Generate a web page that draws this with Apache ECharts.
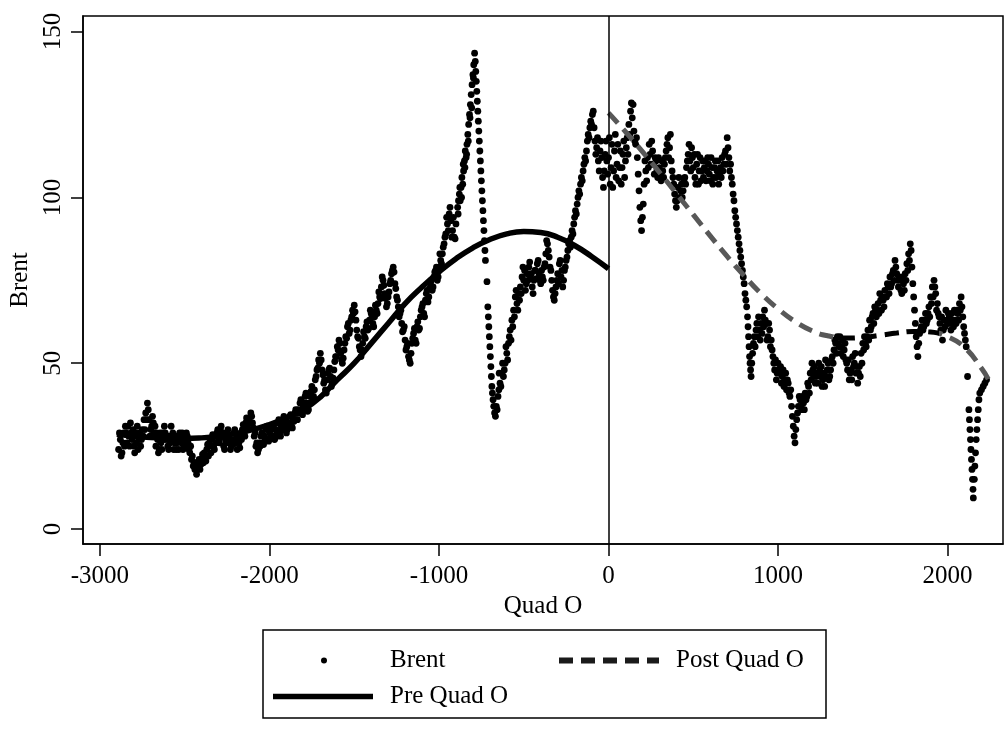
<!DOCTYPE html>
<html lang="en">
<head>
  <meta charset="utf-8">
  <title>Brent around Quad O</title>
  <script src="https://cdn.jsdelivr.net/npm/echarts@6/dist/echarts.min.js"></script>
  <style>
    * { margin: 0; padding: 0; }
    html, body, #chart { width: 100%; height: 100%; overflow: hidden; background: #fff; }
  </style>
</head>
<body>
  <div id="chart"></div>
  <script>
    // Brent price vs trading days relative to Quad O
    var brentPre = [
      [-2890,24],[-2880,27],[-2870,23],[-2860,29],[-2850,31],[-2840,26],[-2830,28],[-2820,32],[-2810,27],[-2800,25],
      [-2790,29],[-2780,31],[-2770,27],[-2760,25],[-2750,30],[-2740,33],[-2730,35],[-2720,38],[-2710,33],[-2700,30],
      [-2690,34],[-2680,29],[-2670,25],[-2660,27],[-2650,24],[-2640,26],[-2630,29],[-2620,31],[-2610,27],[-2600,25],
      [-2590,28],[-2580,31],[-2570,29],[-2560,26],[-2550,24],[-2540,27],[-2530,29],[-2520,26],[-2510,24],[-2500,27],
      [-2490,29],[-2480,26],[-2470,23],[-2460,21],[-2450,19],[-2440,18],[-2430,16.5],[-2420,19],[-2410,18],[-2400,21],
      [-2390,20],[-2380,22],[-2370,24],[-2360,22],[-2350,25],[-2340,27],[-2330,25],[-2320,28],[-2310,29],[-2300,27],
      [-2290,30],[-2280,28],[-2270,25],[-2260,27],[-2250,29],[-2240,26],[-2230,24],[-2220,27],[-2210,29],[-2200,26],
      [-2190,24],[-2180,26],[-2170,28],[-2160,30],[-2150,29],[-2140,32],[-2130,31],[-2120,33],[-2110,35],[-2100,32],
      [-2090,28],[-2080,25],[-2070,23],[-2060,26],[-2050,28],[-2040,26],[-2030,28],[-2020,30],[-2010,27],[-2000,29],
      [-1990,31],[-1980,28],[-1970,27],[-1960,30],[-1950,32],[-1940,29],[-1930,31],[-1920,33],[-1910,30],[-1900,29],
      [-1890,32],[-1880,34],[-1870,31],[-1860,33],[-1850,35],[-1840,33],[-1830,36],[-1820,38],[-1810,35],[-1800,37],
      [-1790,40],[-1780,38],[-1770,36],[-1760,40],[-1750,43],[-1740,40],[-1730,45],[-1720,48],[-1710,51],[-1700,53],
      [-1690,48],[-1680,44],[-1670,42],[-1660,45],[-1650,48],[-1640,46],[-1630,44],[-1620,48],[-1610,52],[-1600,55],
      [-1590,57],[-1580,53],[-1570,50],[-1560,54],[-1550,58],[-1540,61],[-1530,59],[-1520,63],[-1510,66],[-1500,67.5],
      [-1490,63],[-1480,58],[-1470,55],[-1460,52],[-1450,56],[-1440,58],[-1430,61],[-1420,60],[-1410,63],[-1400,65],
      [-1390,62],[-1380,64],[-1370,66],[-1360,68],[-1350,70],[-1340,73],[-1330,75],[-1320,71],[-1310,67],[-1300,70],
      [-1290,74],[-1280,77],[-1270,79],[-1260,74],[-1250,70],[-1240,67],[-1230,65],[-1220,62],[-1210,60],[-1200,57],
      [-1190,55],[-1180,52],[-1170,50],[-1160,56],[-1150,59],[-1140,57],[-1130,61],[-1120,60],[-1110,64],[-1100,67],
      [-1090,65],[-1080,69],[-1070,72],[-1060,70],[-1050,74],[-1040,72],[-1030,76],[-1020,78],[-1010,75],[-1000,79],
      [-990,81],[-980,83],[-970,86],[-960,89],[-950,92],[-940,95],[-930,93],[-920,90],[-910,88],[-900,92],
      [-890,97],[-885,99],[-880,101],[-875,99],[-870,103],[-865,106],[-860,104],[-855,108],[-850,111],[-845,114],
      [-840,112],[-835,116],[-830,119],[-825,122],[-820,125],[-815,128],[-810,131],[-805,134],[-800,137],[-795,140],
      [-790,143.5],[-786,141],[-783,138],[-780,135],[-777,132],[-774,129],[-771,126],[-768,123],[-765,120],[-762,117],
      [-759,114],[-756,111],[-753,108],[-750,105],[-747,102],[-744,99],[-741,96],[-738,93],[-735,90],[-732,87],
      [-729,84],[-726,81],[-717,74.6],[-712,67],[-709,64],[-706,61],[-703,58],[-700,55],[-697,52],[-694,49],
      [-691,46],[-688,43],[-685,41],[-681,39],[-677,37],[-672,35],[-667,34],[-662,37],[-657,36],[-652,40],
      [-647,42],[-640,44],[-630,47],[-620,46],[-610,50],[-600,53],[-590,56],[-580,60],[-570,63],[-560,66],
      [-550,70],[-540,68],[-530,71],[-520,73],[-510,76],[-500,75],[-490,72],[-480,77],[-470,79],[-460,76],
      [-450,73],[-440,75],[-430,78],[-420,80],[-410,77],[-400,74],[-390,76],[-380,79],[-370,83],[-360,86],
      [-350,82],[-340,78],[-330,72],[-320,69],[-310,73],[-300,77],[-290,80],[-280,76],[-270,73],[-260,78],
      [-250,81],[-240,84],[-235,86],[-230,87],[-225,85],[-220,88],[-215,90],[-210,89],[-205,92],[-200,94],
      [-195,96],[-190,95],[-185,98],[-180,100],[-175,102],[-170,101],[-165,104],[-160,106],[-155,105],[-150,108],
      [-145,110],[-140,112],[-135,111],[-130,114],[-125,117],[-120,119],[-115,118],[-110,121],[-105,123],[-100,122],
      [-95,125],[-90,126],[-85,121],[-80,117],[-75,113],[-70,115],[-65,118],[-60,111],[-55,108],[-50,114],
      [-45,117],[-40,112],[-35,106],[-30,103],[-25,108],[-20,113],[-15,117],[-10,111],[-5,107]
    ];
    // second reading of the daily spread inside the band, pre period
    var brentPreSpread = [
      [-2885,29],[-2875,22],[-2865,26],[-2855,25],[-2845,29],[-2835,31],[-2825,25],[-2815,29],[-2805,30],[-2795,23],
      [-2785,26],[-2775,24],[-2765,29],[-2755,27],[-2745,28],[-2735,30],[-2725,33],[-2715,36],[-2705,28],[-2695,31],
      [-2685,32],[-2675,31],[-2665,29],[-2655,23],[-2645,29],[-2635,24],[-2625,27],[-2615,29],[-2605,28],[-2595,24],
      [-2585,26],[-2575,27],[-2565,24],[-2555,28],[-2545,26],[-2535,24],[-2525,28],[-2515,29],[-2505,25],[-2495,25],
      [-2485,28],[-2475,24],[-2465,25],[-2455,22],[-2445,20],[-2435,20],[-2425,18],[-2415,21],[-2405,19.5],[-2395,22.5],
      [-2385,23],[-2375,20.5],[-2365,25.5],[-2355,26],[-2345,23],[-2335,28.5],[-2325,24],[-2315,26],[-2305,30],[-2295,26],
      [-2285,31],[-2275,29],[-2265,24],[-2255,26],[-2245,30],[-2235,27],[-2225,25],[-2215,25.5],[-2205,30],[-2195,27.5],
      [-2185,27],[-2175,24.5],[-2165,27],[-2155,31.5],[-2145,28],[-2135,33.5],[-2125,30],[-2115,32],[-2105,34],[-2095,30.5],
      [-2085,29],[-2075,26],[-2065,24],[-2055,25],[-2045,29],[-2035,25.5],[-2025,27],[-2015,31],[-2005,26.5],[-1995,27.5],
      [-1985,30],[-1975,30.5],[-1965,27.5],[-1955,29],[-1945,33],[-1935,28],[-1925,30],[-1915,34],[-1905,31.5],[-1895,30],
      [-1885,31],[-1875,34.5],[-1865,30.5],[-1855,32.5],[-1845,36],[-1835,33],[-1825,35],[-1815,39],[-1805,34.5],[-1795,38],
      [-1785,41],[-1775,35.5],[-1765,38],[-1755,41.5],[-1745,39],[-1735,42],[-1725,46],[-1715,48.5],[-1705,50],[-1695,51],
      [-1685,46.5],[-1675,45],[-1665,41],[-1655,47],[-1645,48.5],[-1635,43],[-1625,45.5],[-1615,50.5],[-1605,52],[-1595,54],
      [-1585,56],[-1575,51],[-1565,51.5],[-1555,56],[-1545,57.5],[-1535,62],[-1525,60],[-1515,64],[-1505,65],[-1495,65.5],
      [-1485,60],[-1475,57.5],[-1465,54],[-1455,54],[-1445,59.5],[-1435,57.5],[-1425,62.5],[-1415,60.5],[-1405,66],[-1395,64],
      [-1385,61],[-1375,67.5],[-1365,65],[-1355,71.5],[-1345,69.5],[-1335,76],[-1325,73.5],[-1315,69.5],[-1305,68],[-1295,71.5],
      [-1285,75],[-1275,78],[-1265,77.5],[-1255,72.5],[-1245,69],[-1235,64],[-1225,66],[-1215,59.5],[-1205,61],[-1195,54],
      [-1185,56],[-1175,51],[-1165,53],[-1155,57.5],[-1145,60.5],[-1135,56],[-1125,62.5],[-1115,60.5],[-1105,66],[-1095,68],
      [-1085,64],[-1075,71],[-1065,68.5],[-1055,72.5],[-1045,75],[-1035,73],[-1025,77.5],[-1015,79],[-1005,76],[-995,83],
      [-985,80],[-975,85],[-965,88],[-955,94],[-945,90],[-935,97],[-925,88],[-915,94],[-905,87.5],[-887,95],
      [-877,103],[-867,100],[-857,110],[-847,109],[-837,113],[-827,117],[-817,124],[-807,127],[-797,136],[-645,47],
      [-635,43],[-625,50],[-615,48],[-605,55],[-595,51],[-585,58],[-575,57],[-565,61],[-555,64],[-545,72],
      [-535,66],[-525,69],[-515,71],[-505,79],[-495,78],[-485,74],[-475,75],[-465,80.5],[-455,77],[-445,71],
      [-435,78],[-425,75.5],[-415,81],[-405,75],[-395,78],[-385,75],[-375,80],[-365,87],[-355,84],[-345,79],
      [-335,75],[-325,70],[-315,71],[-305,75],[-295,74],[-285,81],[-275,78],[-265,75],[-255,79],[-245,82]
    ];
    var brentPost = [
      [0,112],[10,104],[20,116],[30,108],[40,119],[50,110],[60,105],[70,114],[80,109],[90,117],
      [100,111],[110,118],[120,122],[130,126],[135,128.5],[140,124],[150,120],[160,116],[170,112],[175,107],
      [180,102],[185,97],[190,93],[195,90],[200,94],[205,98],[210,104],[220,108],[230,112],[240,116],
      [250,110],[260,114],[270,107],[280,111],[290,106],[300,109],[310,105],[320,108],[330,110],[340,114],
      [350,118],[360,115],[370,111],[380,106],[390,101],[400,97],[410,103],[420,100],[430,104],[440,102],
      [450,106],[460,109],[470,113],[480,111],[490,115],[500,109],[510,106],[520,110],[530,104],[540,112],
      [550,108],[560,106],[570,111],[580,108],[590,110],[600,105],[610,109],[620,106],[630,111],[640,108],
      [650,104],[660,109],[670,112],[680,110],[690,114],[700,118],[710,112],[720,110],[725,106],[730,104],
      [735,101],[740,99],[745,96],[750,94],[755,92],[760,90],[765,88],[770,86],[775,84],[780,82],
      [785,80],[790,78],[795,76],[800,74],[805,71],[810,69],[815,67],[820,64],[823,61],[826,58],
      [829,55],[832,52],[835,50],[838,48],[841,46],[845,50],[850,53],[855,56],[860,58],[865,55],
      [870,60],[875,62],[880,58],[885,64],[890,60],[900,62],[910,64],[920,66],[930,62],[940,58],
      [950,60],[960,57],[970,52],[980,48],[990,45],[1000,50],[1010,47],[1020,44],[1030,48],[1040,45],
      [1050,42],[1060,44],[1070,40],[1080,37],[1085,34],[1090,31],[1095,28],[1100,26],[1105,30],[1110,33],
      [1120,37],[1130,39],[1140,36],[1150,38],[1160,41],[1170,40],[1180,43],[1190,47],[1200,50],[1210,46],
      [1220,44],[1230,47],[1240,50],[1250,46],[1260,43],[1270,47],[1280,51],[1290,48],[1300,45],[1310,48],
      [1320,52],[1330,54],[1340,56],[1350,58],[1360,55],[1370,53],[1380,57],[1390,54],[1400,51],[1410,48],
      [1420,45],[1430,48],[1440,52],[1450,50],[1460,47],[1470,44],[1480,49],[1490,53],[1500,56],[1510,58],
      [1520,55],[1530,60],[1540,63],[1550,61],[1560,65],[1570,67],[1580,64],[1590,68],[1600,71],[1610,66],
      [1620,69],[1630,72],[1640,70],[1650,73],[1660,76],[1670,74],[1680,78],[1690,81],[1700,77],[1710,73],
      [1720,75],[1730,71],[1740,74],[1750,77],[1760,80],[1770,83],[1780,86],[1785,84],[1790,79],[1795,74],
      [1800,70],[1805,66],[1810,62],[1815,58],[1820,55],[1825,52],[1830,56],[1840,60],[1850,63],[1860,61],
      [1870,65],[1880,63],[1890,67],[1900,70],[1910,73],[1920,75],[1930,71],[1940,68],[1950,64],[1960,60],
      [1970,57],[1980,63],[1990,66],[2000,62],[2010,64],[2020,60],[2030,63],[2040,66],[2050,62],[2060,65],
      [2070,68],[2080,70],[2090,64],[2100,59],[2110,55],[2118,46],[2126,36],[2129,33],[2132,30],[2135,27],
      [2138,24],[2141,21],[2144,18],[2147,15],[2150,12],[2152,9.4],[2158,15],[2161,19],[2165,23],[2169,27],
      [2173,30],[2177,33],[2181,36],[2185,39],[2190,41],[2200,42],[2210,43],[2220,44],[2230,45]
    ];
    // second reading of the daily spread inside the band, post period
    var brentPostSpread = [
      [5,118],[15,109],[25,103],[35,114],[45,106],[55,116],[65,109],[75,104],[85,113],[95,106],
      [105,115],[115,113],[125,119],[145,128],[155,117],[165,118],[215,111],[225,105],[235,109],[245,113],
      [255,117],[265,110],[275,112],[285,108],[295,112],[305,107],[315,111],[325,106],[335,112],[345,116],
      [355,112],[365,119],[375,108],[385,104],[395,99],[405,99],[415,106],[425,102],[435,100],[445,105],
      [455,104],[465,111],[475,116],[485,108],[495,112],[505,113],[515,104],[525,113],[535,108],[545,105],
      [555,111],[565,109],[575,105],[585,112],[595,107],[605,112],[615,104],[625,109],[635,106],[645,111],
      [655,107],[665,106],[675,108],[685,113],[695,110],[705,115],[715,108],[895,57],[905,59],[915,61],
      [925,63],[935,57],[945,62],[955,55],[965,54],[975,50],[985,51],[995,47],[1005,48],[1015,49],
      [1025,46],[1035,43],[1045,47],[1055,45],[1065,41],[1075,42],[1115,35],[1125,40],[1135,37],[1145,40],
      [1155,36],[1165,39],[1175,44],[1185,41],[1195,45],[1205,48],[1215,49],[1225,46],[1235,44],[1245,48],
      [1255,49],[1265,45],[1275,43],[1285,46],[1295,50],[1305,46],[1315,51],[1325,50],[1335,57],[1345,53],
      [1355,56],[1365,58],[1375,55],[1385,52],[1395,56],[1405,50],[1415,51],[1425,47],[1435,45],[1445,49],
      [1455,53],[1465,49],[1475,47],[1485,46],[1495,50],[1505,54],[1515,56],[1525,58],[1535,57],[1545,60],
      [1555,64],[1565,62],[1575,66],[1585,66],[1595,65],[1605,69],[1615,70],[1625,67],[1635,70],[1645,74],
      [1655,71],[1665,73],[1675,77],[1685,75],[1695,79],[1705,75],[1715,76],[1725,72],[1735,76],[1745,72],
      [1755,75],[1765,78],[1775,81],[1835,59],[1845,61],[1855,60],[1865,63],[1875,62],[1885,65],[1895,64],
      [1905,68],[1915,70],[1925,73],[1935,66],[1945,65],[1955,62],[1965,64],[1975,60],[1985,61],[1995,63],
      [2005,65],[2015,62],[2025,65],[2035,61],[2045,63],[2055,66],[2065,63],[2075,66],[2085,67],[2095,61],
      [2105,57]
    ];
    // fitted trends
    var preFit = [
      [-2900,28.6],[-2800,28.0],[-2700,27.6],[-2600,27.4],[-2500,27.3],[-2400,27.5],[-2300,28.0],[-2200,28.8],
      [-2100,30.0],[-2000,31.5],[-1900,33.5],[-1800,36.0],[-1700,39.8],[-1600,45.0],[-1500,50.0],[-1400,56.0],
      [-1300,62.0],[-1200,68.0],[-1100,73.0],[-1000,77.5],[-900,81.5],[-800,84.8],[-700,87.3],[-600,89.0],
      [-500,89.7],[-400,89.4],[-300,88.0],[-200,85.5],[-100,82.2],[0,78.5]
    ];
    var postFit = [
      [0,125.5],[100,119.8],[200,113.8],[300,107.6],[400,101.2],[500,94.8],[600,88.4],[700,82.2],
      [800,76.4],[900,71.0],[1000,66.4],[1100,62.6],[1200,59.8],[1300,58.2],[1400,57.6],[1500,57.8],
      [1600,58.4],[1700,59.1],[1800,59.6],[1900,59.4],[2000,58.0],[2100,54.8],[2200,48.5],[2240,45.2]
    ];
    var xTicks = [-3000, -2000, -1000, 0, 1000, 2000];
    var yTicks = [0, 50, 100, 150];

    var serif = 'Liberation Serif';
    var txt = { fontFamily: serif, fontSize: 25, color: '#000' };
    var plain = function (v) { return String(v); };

    // post trend is drawn grey, with the stretch 1320..1940 black as in the figure
    var postLast = postFit[postFit.length - 1][0];
    var postColor = new echarts.graphic.LinearGradient(0, 0, 1, 0, [
      { offset: 0, color: '#585858' },
      { offset: 1320 / postLast, color: '#585858' },
      { offset: 1320 / postLast, color: '#000' },
      { offset: 1940 / postLast, color: '#000' },
      { offset: 1940 / postLast, color: '#585858' },
      { offset: 1, color: '#585858' }
    ]);

    var chart = echarts.init(document.getElementById('chart'));
    chart.setOption({
      animation: false,
      backgroundColor: '#fff',
      textStyle: { fontFamily: serif },
      grid: {
        left: 83, top: 16, width: 920, height: 528,
        show: true, borderColor: '#000', borderWidth: 1.5, backgroundColor: '#fff'
      },
      xAxis: {
        type: 'value', min: -3100, max: 2327,
        name: 'Quad O', nameLocation: 'middle', nameGap: 46, nameTextStyle: txt,
        axisLine: { show: true, onZero: false, lineStyle: { color: '#000', width: 1.5 } },
        axisTick: { show: true, length: 12, customValues: xTicks, lineStyle: { color: '#000', width: 1.5 } },
        axisLabel: Object.assign({ customValues: xTicks, margin: 20, formatter: plain }, txt),
        splitLine: { show: false }
      },
      yAxis: {
        type: 'value', min: -4.5, max: 154.7,
        name: 'Brent', nameLocation: 'middle', nameGap: 44, nameTextStyle: txt,
        axisLine: { show: true, onZero: false, lineStyle: { color: '#000', width: 1.5 } },
        axisTick: { show: true, length: 12, customValues: yTicks, lineStyle: { color: '#000', width: 1.5 } },
        axisLabel: Object.assign({ customValues: yTicks, margin: 17, rotate: 90, formatter: plain }, txt),
        splitLine: { show: false }
      },
      legend: [
        {
          data: ['Brent'], left: 321, top: 648, padding: 0,
          itemWidth: 6, itemHeight: 6, icon: 'circle',
          itemStyle: { color: '#000', opacity: 1 },
          textStyle: Object.assign({ padding: [0, 0, 0, 58] }, txt)
        },
        {
          data: ['Post Quad O'], left: 556, top: 648, padding: 0,
          itemWidth: 100, itemHeight: 8,
          lineStyle: { color: '#1a1a1a', width: 6 },
          itemStyle: { opacity: 0 },
          textStyle: Object.assign({ padding: [0, 0, 0, 12] }, txt)
        },
        {
          data: ['Pre Quad O'], left: 273, top: 684, padding: 0,
          itemWidth: 100, itemHeight: 5.5, icon: 'rect',
          itemStyle: { color: '#000' },
          textStyle: Object.assign({ padding: [0, 0, 0, 12] }, txt)
        }
      ],
      graphic: [{
        type: 'rect', silent: true,
        shape: { x: 263, y: 630, width: 563, height: 88 },
        style: { fill: 'none', stroke: '#000', lineWidth: 1.5 }
      }],
      series: [
        {
          name: 'Brent', type: 'scatter',
          data: brentPre.concat(brentPreSpread, brentPost, brentPostSpread),
          symbol: 'circle', symbolSize: 6.8,
          itemStyle: { color: '#000', opacity: 1 },
          markLine: {
            silent: true, symbol: ['none', 'none'],
            label: { show: false },
            lineStyle: { color: '#000', width: 1.5, type: 'solid' },
            data: [{ xAxis: 0 }]
          }
        },
        {
          name: 'Pre Quad O', type: 'line', data: preFit,
          symbol: 'none', smooth: true,
          lineStyle: { color: '#000', width: 5.5 },
          itemStyle: { color: '#000' }
        },
        {
          name: 'Post Quad O', type: 'line', data: postFit,
          symbol: 'none', smooth: true,
          lineStyle: { color: postColor, width: 5, type: [14, 8] },
          itemStyle: { color: '#585858' }
        }
      ]
    });
  </script>
</body>
</html>
